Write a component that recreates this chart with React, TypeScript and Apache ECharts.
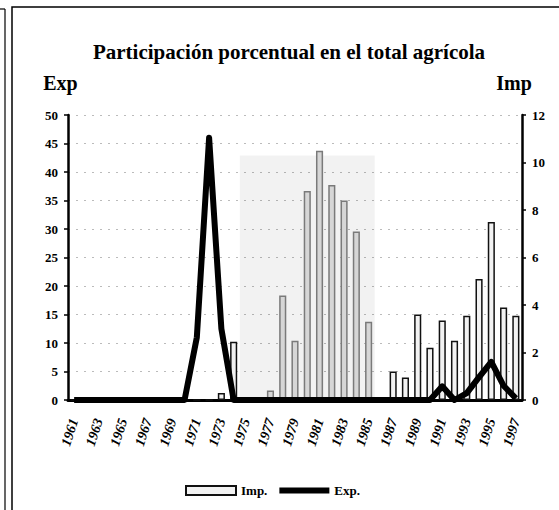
import React, { useEffect, useRef } from "react";
import * as echarts from "echarts";

const years = [
  "1961", "1962", "1963", "1964", "1965", "1966", "1967", "1968", "1969", "1970",
  "1971", "1972", "1973", "1974", "1975", "1976", "1977", "1978", "1979", "1980",
  "1981", "1982", "1983", "1984", "1985", "1986", "1987", "1988", "1989", "1990",
  "1991", "1992", "1993", "1994", "1995", "1996", "1997",
];

// Imp. (right axis, %)
const impValues = [
  0, 0, 0, 0, 0, 0, 0, 0, 0, 0,
  0, 0, 0.3, 2.45, 0, 0, 0.4, 4.4, 2.5, 8.8,
  10.5, 9.05, 8.4, 7.1, 3.3, 0, 1.2, 0.95, 3.6, 2.2,
  3.35, 2.5, 3.55, 5.1, 7.5, 3.9, 3.55,
];

// Exp. (left axis, %)
const expValues = [
  0, 0, 0, 0, 0, 0, 0, 0, 0, 0,
  11, 46, 12.5, 0, 0, 0, 0, 0, 0, 0,
  0, 0, 0, 0, 0, 0, 0, 0, 0, 0,
  2.4, 0, 1.2, 4, 6.7, 2.5, 0.3,
];

const shadedFrom = "1975";
const shadedTo = "1985";

const serif = "'Liberation Serif', 'DejaVu Serif', serif";

export default function App() {
  const ref = useRef<HTMLDivElement>(null);

  useEffect(() => {
    if (!ref.current) return;
    const chart = echarts.init(ref.current, null, { renderer: "svg" });
    const from = years.indexOf(shadedFrom);
    const to = years.indexOf(shadedTo);
    const option = {
      animation: false,
      backgroundColor: "#fff",
      title: {
        text: "Participación porcentual en el total agrícola",
        left: 284,
        textAlign: "center",
        top: 36,
        textStyle: { fontFamily: serif, fontWeight: "bold", fontSize: 21, color: "#000" },
      },
      legend: {
        left: 180,
        top: 479,
        itemWidth: 50,
        itemHeight: 9,
        itemGap: 12,
        textStyle: { fontFamily: serif, fontWeight: "bold", fontSize: 13, color: "#000" },
        data: [
          { name: "Imp.", icon: "rect" },
          { name: "Exp.", icon: "path://M0,0 L50,0 L50,6 L0,6 Z" },
        ],
      },
      grid: { left: 68, right: 37, top: 115, bottom: 110 },
      xAxis: {
        type: "category",
        data: years,
        boundaryGap: true,
        axisLine: { show: true, lineStyle: { color: "#000", width: 3 } },
        axisTick: { show: false },
        axisLabel: {
          interval: 1,
          rotate: 72,
          margin: 19,
          fontFamily: serif,
          fontWeight: "bold",
          fontStyle: "italic",
          fontSize: 14,
          color: "#000",
        },
      },
      yAxis: [
        {
          type: "value",
          min: 0,
          max: 50,
          interval: 5,
          name: "Exp",
          nameLocation: "end",
          nameGap: 22,
          nameTextStyle: {
            fontFamily: serif,
            fontWeight: "bold",
            fontSize: 20,
            color: "#000",
            align: "center",
            padding: [0, 15, 0, 0],
          },
          axisLine: { show: true, lineStyle: { color: "#000", width: 2.5 } },
          axisTick: { show: true, length: 4, lineStyle: { color: "#000", width: 1.5 } },
          axisLabel: { fontFamily: serif, fontWeight: "bold", fontSize: 13, color: "#000", margin: 10 },
          splitLine: { show: true, lineStyle: { color: "#bbb", width: 1, type: [2, 6] } },
        },
        {
          type: "value",
          min: 0,
          max: 12,
          interval: 2,
          name: "Imp",
          nameLocation: "end",
          nameGap: 22,
          nameTextStyle: {
            fontFamily: serif,
            fontWeight: "bold",
            fontSize: 20,
            color: "#000",
            align: "center",
            padding: [0, 16, 0, 0],
          },
          axisLine: { show: true, lineStyle: { color: "#000", width: 2.5 } },
          axisTick: { show: true, length: 4, lineStyle: { color: "#000", width: 1.5 } },
          axisLabel: { fontFamily: serif, fontWeight: "bold", fontSize: 13, color: "#000", margin: 10 },
          splitLine: { show: false },
        },
      ],
      series: [
        {
          name: "Imp.",
          type: "bar",
          yAxisIndex: 1,
          barCategoryGap: "42%",
          itemStyle: { color: "#f2f2f2", borderColor: "#111", borderWidth: 1.5 },
          data: impValues.map((v, i) =>
            i >= from && i <= to
              ? { value: v, itemStyle: { color: "#d6d6d6", borderColor: "#7a7a7a", borderWidth: 1.5 } }
              : v
          ),
          markArea: {
            silent: true,
            itemStyle: { color: "rgba(0,0,0,0.05)" },
            data: [[{ xAxis: shadedFrom, yAxis: 10.3 }, { xAxis: shadedTo, yAxis: -0.2 }]],
          },
          z: 2,
        },
        {
          name: "Exp.",
          type: "line",
          yAxisIndex: 0,
          symbol: "none",
          lineStyle: { color: "#000", width: 6, join: "round" },
          itemStyle: { color: "#000" },
          data: expValues,
          z: 5,
        },
      ],
      graphic: [
        {
          type: "rect",
          shape: { x: 12, y: 7, width: 560, height: 520 },
          style: { fill: "none", stroke: "#000", lineWidth: 1.5 },
          silent: true,
        },
        {
          type: "line",
          shape: { x1: 5, y1: 9, x2: 5, y2: 512 },
          style: { stroke: "#000", lineWidth: 1.2 },
          silent: true,
        },
        {
          type: "line",
          shape: { x1: 0, y1: 9, x2: 5, y2: 9 },
          style: { stroke: "#000", lineWidth: 1.2 },
          silent: true,
        },
      ],
    };
    chart.setOption(option as any);
    return () => chart.dispose();
  }, []);

  return (
    <div
      ref={ref}
      style={{ position: "fixed", left: 0, top: 0, width: 559, height: 510, background: "#fff" }}
    />
  );
}
